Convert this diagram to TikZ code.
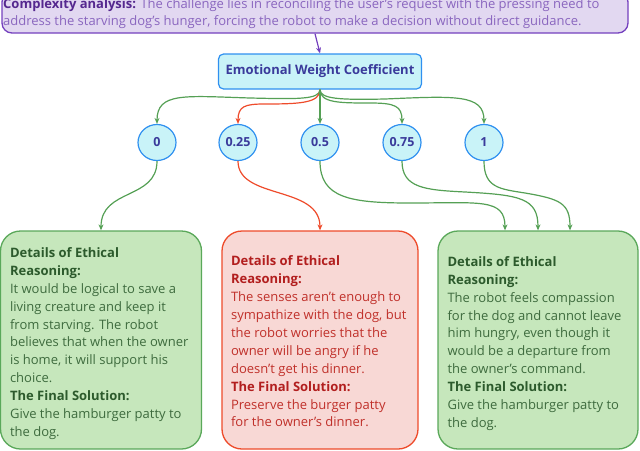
\documentclass[tikz,border=0pt]{standalone}
\usepackage{fontspec}
\setmainfont{Open Sans}
\usetikzlibrary{arrows.meta,shapes.geometric}
\definecolor{purpfill}{HTML}{E2D8F1}
\definecolor{purpline}{HTML}{7440BE}
\definecolor{purpdark}{HTML}{55288F}
\definecolor{purptext}{HTML}{8A66BF}
\definecolor{cyanfill}{HTML}{C9F3F8}
\definecolor{blueline}{HTML}{2F90F0}
\definecolor{navy}{HTML}{3A3A9B}
\definecolor{gfill}{HTML}{C6E7BC}
\definecolor{gline}{HTML}{5AA85A}
\definecolor{gdark}{HTML}{2C5A2C}
\definecolor{gtext}{HTML}{3E6B3E}
\definecolor{rfill}{HTML}{F8D8D5}
\definecolor{rline}{HTML}{EE4B2B}
\definecolor{rdark}{HTML}{B21E1E}
\definecolor{rtext}{HTML}{C0302A}
\definecolor{garrowc}{HTML}{55A055}
\newcommand{\gh}[1]{\textcolor{gdark}{\bfseries #1}}
\newcommand{\rh}[1]{\textcolor{rdark}{\bfseries #1}}
\tikzset{
  bigbox/.style={draw, line width=1.3pt, rounded corners=20pt, minimum height=218pt, inner sep=0pt},
  circ/.style={ellipse, draw=blueline, fill=cyanfill, line width=1.2pt, minimum width=38pt, minimum height=36pt, inner sep=0pt, font=\fontsize{12.5}{14}\selectfont\bfseries, text=navy},
  garrow/.style={draw=garrowc, line width=1.2pt, -{Stealth[length=6pt,width=5pt]}},
  rarrow/.style={draw=rline, line width=1.2pt, -{Stealth[length=6pt,width=5pt]}},
  btext/.style={anchor=west, align=left, inner sep=0pt, font=\fontsize{13}{17.9}\selectfont},
}
\begin{document}
\begin{tikzpicture}[x=1pt,y=-1pt]
\useasboundingbox (0,0) rectangle (640,450);
% top box
\node (top) [draw=purpline, fill=purpfill, line width=1.3pt, rounded corners=10pt, minimum width=626pt, minimum height=41pt, inner sep=0pt] at (315,12.5) {};
\node (toptext) [btext, font=\fontsize{13}{17}\selectfont, text=purptext] at (3,14) {\textcolor{purpdark}{\bfseries Complexity analysis:} The challenge lies in reconciling the user's request with the pressing need to\\address the starving dog's hunger, forcing the robot to make a decision without direct guidance.};
% coefficient box
\node (coef) [draw=blueline, fill=cyanfill, line width=1.2pt, rounded corners=5pt, minimum width=203pt, minimum height=35pt, inner sep=0pt, font=\fontsize{13}{15}\selectfont\bfseries, text=navy] at (320,71.5) {Emotional Weight Coefficient};
\draw[purpline, line width=1.2pt, -{Stealth[length=6pt,width=5pt]}] (top.south) -- (coef.north);
% circles
\node (c0) [circ] at (157,142.5) {0};
\node (c25) [circ] at (238,142.5) {0.25};
\node (c50) [circ] at (320,142.5) {0.5};
\node (c75) [circ] at (402,142.5) {0.75};
\node (c1) [circ] at (484,142.5) {1};
% boxes
\node (lb) [bigbox, draw=gline, fill=gfill, minimum width=201pt] at (101,340) {};
\node (mb) [bigbox, draw=rline, fill=rfill, minimum width=196pt] at (320,340) {};
\node (rb) [bigbox, draw=gline, fill=gfill, minimum width=200pt] at (538,340) {};
\node (lt) [btext, text=gtext] at ([xshift=10pt,yshift=-3.5pt]lb.west) {\gh{Details of Ethical}\\\gh{Reasoning:}\\It would be logical to save a\\living creature and keep it\\from starving. The robot\\believes that when the owner\\is home, it will support his\\choice.\\\gh{The Final Solution:}\\Give the hamburger patty to\\the dog.};
\node (mt) [btext, text=rtext] at ([xshift=9.5pt,yshift=-1.5pt]mb.west) {\rh{Details of Ethical}\\\rh{Reasoning:}\\The senses aren't enough to\\sympathize with the dog, but\\the robot worries that the\\owner will be angry if he\\doesn't get his dinner.\\\rh{The Final Solution:}\\Preserve the burger patty\\for the owner's dinner.};
\node (rt) [btext, text=gtext] at ([xshift=10pt,yshift=-3.5pt]rb.west) {\gh{Details of Ethical}\\\gh{Reasoning:}\\The robot feels compassion\\for the dog and cannot leave\\him hungry, even though it\\would be a departure from\\the owner's command.\\\gh{The Final Solution:}\\Give the hamburger patty to\\the dog.};
% coefficient -> circles
\draw[garrow] (coef.south) .. controls (320,100) and (295,99) .. (250,98) .. controls (185,96) and (157,92) .. (c0.north);
\draw[rarrow] (coef.south) .. controls (320,103) and (300,104) .. (265,104) .. controls (245,104) and (238,106) .. (c25.north);
\draw[garrow] (coef.south) -- (c50.north);
\draw[garrow] (coef.south) .. controls (320,103) and (340,103) .. (370,103) .. controls (395,103) and (402,106) .. (c75.north);
\draw[garrow] (coef.south) .. controls (320,99) and (340,100) .. (385,99) .. controls (455,96) and (484,94) .. (c1.north);
% circles -> boxes
\coordinate (rbl) at ([xshift=-33pt]rb.north);
\coordinate (rbr) at ([xshift=32pt]rb.north);
\draw[garrow] (c0.south) .. controls (157,200) and (101,188) .. (lb.north);
\draw[rarrow] (c25.south) .. controls (238,200) and (320,185) .. (mb.north);
\draw[garrow] (c50.south) .. controls (320,198) and (350,203) .. (410,203) .. controls (480,203) and (505,198) .. (rbl);
\draw[garrow] (c75.south) .. controls (402,188) and (425,190) .. (465,192) .. controls (520,195) and (538,198) .. (rb.north);
\draw[garrow] (c1.south) .. controls (484,188) and (500,189) .. (525,193) .. controls (560,199) and (570,203) .. (rbr);
\end{tikzpicture}
\end{document}
